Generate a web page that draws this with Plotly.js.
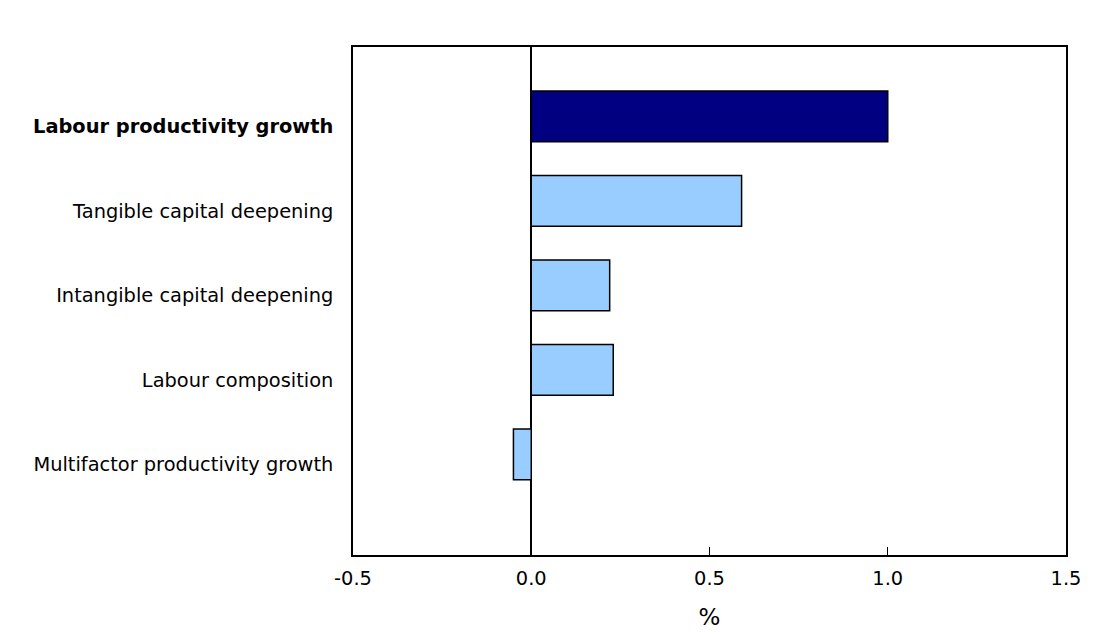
<!DOCTYPE html>
<html>
<head>
<meta charset="utf-8">
<script src="https://cdn.plot.ly/plotly-3.0.1.min.js"></script>
<style>body{margin:0;background:#fff;} #chart{width:1118px;height:636px;}</style>
</head>
<body>
<div id="chart"></div>
<script>
// contributions to labour productivity growth, percent
var categories = [
  '<b>Labour productivity growth</b>',
  'Tangible capital deepening',
  'Intangible capital deepening',
  'Labour composition',
  'Multifactor productivity growth'
];
var values = [1.0, 0.59, 0.22, 0.23, -0.05];
var barColors = ['#000080', '#99ccff', '#99ccff', '#99ccff', '#99ccff'];
var xTicks = [-0.5, 0, 0.5, 1.0, 1.5];
var xTickText = ['-0.5', '0.0', '0.5', '1.0', '1.5'];

var trace = {
  type: 'bar',
  orientation: 'h',
  y: categories,
  x: values,
  width: 0.6,
  marker: {color: barColors, line: {color: '#000', width: 1.5}},
  hoverinfo: 'x+y'
};

var layout = {
  width: 1118,
  height: 636,
  margin: {l: 353, r: 52, t: 47, b: 81},
  paper_bgcolor: '#fff',
  plot_bgcolor: '#fff',
  font: {family: 'DejaVu Sans, Verdana, sans-serif', size: 19.4, color: '#000'},
  showlegend: false,
  xaxis: {
    range: [-0.5, 1.5],
    tickvals: xTicks,
    ticktext: xTickText,
    ticks: 'inside',
    ticklen: 8,
    tickcolor: '#000',
    ticklabelstandoff: 5,
    showgrid: false,
    zeroline: true,
    zerolinecolor: '#000',
    zerolinewidth: 1.5,
    showline: true,
    linecolor: '#000',
    linewidth: 1.5,
    mirror: true,
    title: {text: '%', standoff: 20}
  },
  yaxis: {
    type: 'category',
    range: [5.19, -0.82],
    showgrid: false,
    ticks: '',
    showline: true,
    linecolor: '#000',
    linewidth: 1.5,
    mirror: true,
    ticklabelstandoff: 14,
    ticklabelshift: -10
  }
};

Plotly.newPlot('chart', [trace], layout, {displayModeBar: false});
</script>
</body>
</html>
